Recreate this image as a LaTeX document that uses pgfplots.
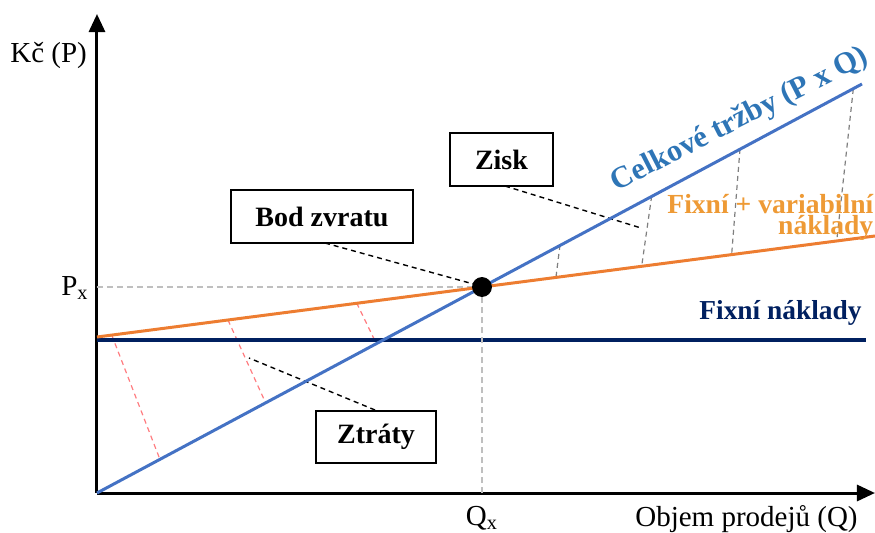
\documentclass[border=0pt]{standalone}
\usepackage{fontspec}
\setmainfont{Liberation Serif}[BoldFont={Liberation Serif Bold}]
\usepackage{pgfplots}
\pgfplotsset{compat=1.18}
\usetikzlibrary{arrows.meta}
\definecolor{salesblue}{HTML}{4472C4}
\definecolor{salestext}{HTML}{2E75B6}
\definecolor{costorange}{HTML}{ED7D31}
\definecolor{costtext}{HTML}{EE9A35}
\definecolor{fixnavy}{HTML}{002060}
\definecolor{lossred}{HTML}{FF7C80}
\definecolor{gaingrey}{HTML}{7F7F7F}
\definecolor{guidegrey}{HTML}{BFBFBF}

\begin{document}
\begin{tikzpicture}
\begin{axis}[scale only axis,width=389pt,height=239.5pt,
 xmin=0,xmax=778,ymin=0,ymax=479,
 axis lines=left,
 axis line style={line width=1.5pt,-{Triangle[length=9pt,width=8pt]}},
 xtick=\empty,ytick=\empty,
 clip=false]
% guide lines to the break-even point
\addplot[guidegrey,line width=0.7pt,dash pattern=on 3pt off 2pt] coordinates {(0,206) (385,206)};
% loss connectors
\addplot[lossred,line width=0.6pt,dash pattern=on 2.5pt off 2pt] coordinates {(14.7,158) (63,33.5)};
\addplot[lossred,line width=0.6pt,dash pattern=on 2.5pt off 2pt] coordinates {(131,173) (168.7,90)};
\addplot[lossred,line width=0.6pt,dash pattern=on 2.5pt off 2pt] coordinates {(259.7,190) (279,150)};
% profit connectors
\addplot[gaingrey,line width=0.6pt,dash pattern=on 2.5pt off 2pt] coordinates {(463,248) (459,216)};
\addplot[gaingrey,line width=0.6pt,dash pattern=on 2.5pt off 2pt] coordinates {(554.7,297) (544.7,227)};
\addplot[gaingrey,line width=0.6pt,dash pattern=on 2.5pt off 2pt] coordinates {(643,344) (634.7,239)};
\addplot[gaingrey,line width=0.6pt,dash pattern=on 2.5pt off 2pt] coordinates {(756.3,404) (739.7,252)};
% leaders
\addplot[black,line width=0.7pt,dash pattern=on 2.5pt off 2pt] coordinates {(228,250) (380,208)};
\addplot[black,line width=0.7pt,dash pattern=on 2.5pt off 2pt] coordinates {(408,307) (544,265)};
\addplot[black,line width=0.7pt,dash pattern=on 2.5pt off 2pt] coordinates {(278,83) (152,135)};
% main lines
\addplot[fixnavy,line width=2.2pt] coordinates {(0,153) (769,153)};
\addplot[costorange,line width=1.5pt] coordinates {(0,156) (778,257)};
\addplot[salesblue,line width=1.5pt] coordinates {(0,0) (765,409)};
% break-even point
\addplot[only marks,mark=*,mark size=4.75pt,black] coordinates {(385,206)};
\addplot[guidegrey,line width=0.7pt,dash pattern=on 3pt off 2pt] coordinates {(385,0) (385,214)};

% boxes
\node[draw,line width=0.75pt,fill=white,minimum width=91pt,minimum height=26.5pt,inner sep=0pt,
 font=\fontsize{14}{16}\selectfont\bfseries] at (axis cs:225,276.5) {Bod zvratu};
\node[draw,line width=0.75pt,fill=white,minimum width=51.5pt,minimum height=26.5pt,inner sep=0pt,
 font=\fontsize{14}{16}\selectfont\bfseries] at (axis cs:404.5,333.5) {Zisk};
\node[draw,line width=0.75pt,fill=white,minimum width=60pt,minimum height=26pt,inner sep=0pt,
 font=\fontsize{14}{16}\selectfont\bfseries] at (axis cs:279,56) {Ztráty};

% line labels
\node[anchor=base east,inner sep=0pt,text=fixnavy,font=\fontsize{13.7}{16}\selectfont\bfseries]
 at (axis cs:765,174) {Fixní náklady};
\node[rotate=27,inner sep=0pt,text=salestext,font=\fontsize{15.3}{18}\selectfont\bfseries]
 at (axis cs:643,373) {Celkové tržby (P x Q)};
\node[anchor=base west,inner sep=0pt,text=costtext,font=\fontsize{13.8}{16}\selectfont\bfseries]
 (fv) at (axis cs:570,280) {Fixní + variabilní};
\node[anchor=base east,inner sep=0pt,text=costtext,font=\fontsize{13.8}{16}\selectfont\bfseries]
 at ([yshift=-10.5pt]fv.base east) {náklady};

% axis texts
\node[anchor=base west,inner sep=0pt,font=\fontsize{14.5}{17}\selectfont] at (axis cs:-87,431) {Kč (P)};
\node[anchor=base east,inner sep=0pt,font=\fontsize{14.5}{17}\selectfont] at (axis cs:761,-33) {Objem prodejů (Q)};
\node[anchor=base east,inner sep=0pt,font=\fontsize{14.5}{17}\selectfont] at (axis cs:-8,198) {P\textsubscript{x}};
\node[anchor=base,inner sep=0pt,font=\fontsize{14.5}{17}\selectfont] at (axis cs:385,-32) {Q\textsubscript{x}};

\coordinate (bl) at (axis cs:-97,-39);
\coordinate (tr) at (axis cs:778,493);
\end{axis}
\pgfresetboundingbox
\useasboundingbox (bl) rectangle (tr);
\end{tikzpicture}
\end{document}
